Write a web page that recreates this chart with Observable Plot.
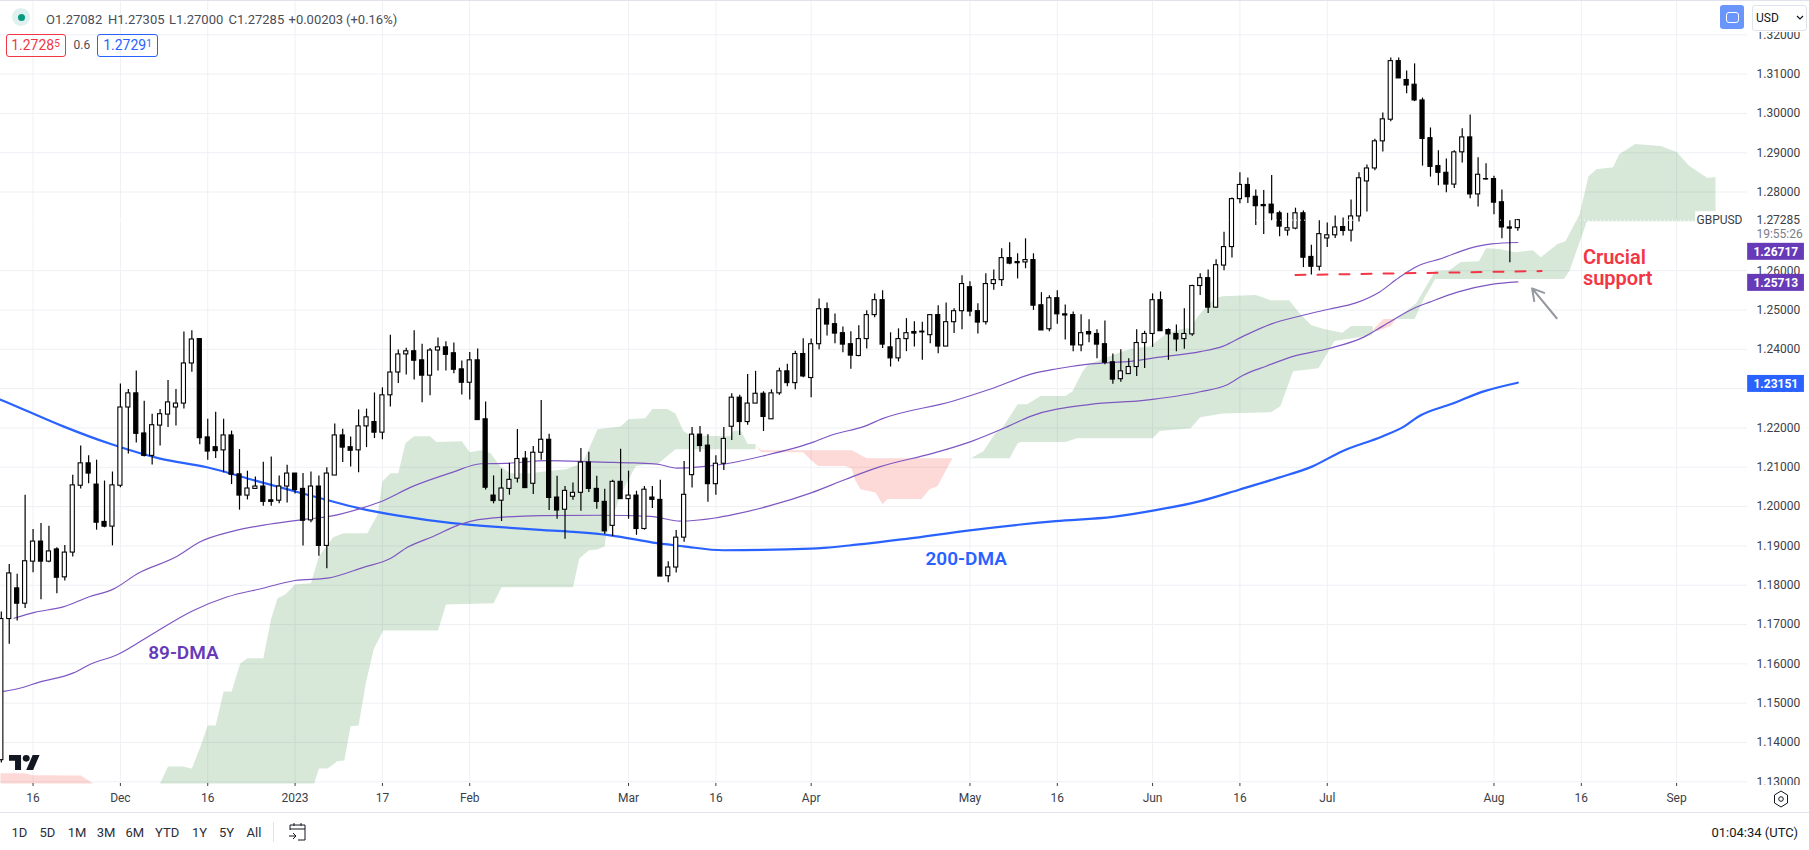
<!DOCTYPE html>
<html><head><meta charset="utf-8">
<script src="https://cdn.jsdelivr.net/npm/d3@7"></script>
<script src="https://cdn.jsdelivr.net/npm/@observablehq/plot@0.6"></script>
<style>
html,body{margin:0;padding:0;background:#fff;overflow:hidden}
#root{position:relative;width:1809px;height:850px;font-family:Roboto,sans-serif;color:#131722;overflow:hidden}
#root svg{display:block}
.a{position:absolute;white-space:nowrap;line-height:1}
</style></head><body><div id="root"><div id="chart"></div></div>
<script>
const PIP = 1e-4;
const opens = [11355,11714,11792,11753,11860,11911,11860,11891,11820,11883,
12053,12110,12056,11961,11949,12053,12252,12288,12186,12129,
12206,12234,12252,12262,12364,12426,12176,12151,12143,12181,
12082,12028,12045,12051,12016,12015,12051,12084,12045,11965,
12051,11900,12079,12181,12151,12143,12204,12215,12188,12283,
12341,12387,12395,12372,12333,12397,12405,12390,12349,12315,
12372,12222,12028,12015,12045,12071,12122,12058,12137,12170,
12023,11992,12025,12035,12112,12045,12012,11951,12063,12019,
12028,11943,12023,12017,11823,11845,11921,12080,12183,12155,
12057,12109,12203,12277,12215,12262,12287,12222,12288,12344,
12314,12388,12327,12413,12502,12464,12441,12413,12383,12426,
12487,12525,12405,12377,12426,12444,12443,12436,12487,12407,
12469,12497,12558,12497,12469,12566,12576,12632,12622,12621,
12627,12512,12451,12530,12489,12487,12410,12444,12439,12413,
12367,12324,12337,12355,12416,12439,12525,12449,12439,12426,
12438,12561,12581,12506,12613,12660,12782,12818,12788,12767,
12768,12746,12702,12707,12746,12635,12610,12682,12690,12711,
12702,12738,12827,12860,12929,12984,13133,13085,13073,13033,
12937,12866,12849,12819,12901,12939,12794,12833,12833,12774,
12710,12708.2];
const closes = [11714,11830,11753,11861,11911,11860,11886,11819,11883,12054,
12110,12084,11959,11949,12054,12252,12288,12185,12129,12207,
12235,12265,12262,12364,12425,12174,12140,12141,12181,12081,
12028,12046,12051,12012,12012,12051,12084,12042,11964,12051,
11900,12084,12181,12150,12142,12204,12227,12188,12283,12341,
12387,12395,12371,12333,12397,12405,12386,12348,12315,12372,
12220,12048,12014,12046,12068,12121,12047,12137,12170,12022,
11990,12040,12035,12112,12045,12012,11937,12063,12019,12028,
11943,12043,12017,11822,11845,11921,12030,12183,12154,12057,
12109,12172,12277,12215,12262,12287,12228,12288,12344,12314,
12388,12331,12413,12502,12463,12440,12412,12384,12426,12487,
12525,12412,12377,12426,12441,12440,12445,12487,12407,12469,
12497,12566,12496,12468,12566,12576,12632,12618,12619,12627,
12511,12448,12530,12489,12486,12410,12441,12438,12412,12366,
12323,12344,12355,12416,12439,12525,12446,12438,12425,12439,
12561,12581,12506,12614,12660,12782,12818,12787,12764,12764,
12746,12712,12708,12746,12633,12610,12693,12690,12710,12701,
12738,12835,12860,12929,12985,13133,13089,13071,13033,12935,
12864,12849,12819,12901,12939,12794,12844,12832,12773,12710,
12707,12728.5];
const highs = [11732,11853,11828,12029,11942,11957,11950,11895,11901,12080,
12154,12129,12118,12065,12088,12312,12298,12345,12268,12235,
12247,12321,12298,12444,12447,12426,12222,12240,12222,12192,
12145,12090,12075,12113,12126,12078,12105,12084,12084,12088,
12078,12099,12210,12197,12177,12246,12248,12289,12302,12436,
12398,12403,12447,12413,12402,12429,12419,12416,12370,12392,
12401,12266,12078,12095,12110,12196,12140,12153,12270,12184,
12077,12051,12060,12148,12138,12077,12044,12067,12146,12090,
12039,12051,12051,12067,11860,11939,12115,12201,12204,12183,
12129,12201,12287,12283,12336,12344,12292,12297,12352,12362,
12395,12427,12426,12528,12518,12490,12457,12445,12460,12498,
12541,12549,12442,12452,12478,12470,12469,12487,12511,12518,
12503,12587,12572,12516,12592,12602,12656,12671,12643,12681,
12643,12544,12536,12549,12513,12495,12488,12475,12450,12472,
12388,12399,12376,12450,12446,12541,12546,12452,12462,12503,
12563,12592,12602,12628,12698,12785,12849,12836,12805,12804,
12842,12751,12746,12759,12752,12665,12727,12721,12739,12734,
12780,12849,12869,12934,13001,13141,13141,13108,13126,13039,
12963,12905,12884,12905,12961,12996,12887,12872,12840,12805,
12727,12730.5];
const lows = [11348,11650,11709,11741,11832,11763,11857,11778,11811,11872,
12045,12058,11940,11946,11900,12048,12134,12162,12126,12106,
12154,12201,12205,12248,12342,12157,12118,12122,12086,12056,
11991,12017,12045,12001,12001,12007,12009,12032,11900,11959,
11874,11842,12079,12112,12101,12086,12150,12173,12170,12253,
12313,12335,12322,12264,12282,12345,12345,12338,12284,12271,
12220,12042,12007,11962,12029,12060,12047,12031,12118,11990,
11968,11917,12016,11988,12036,11993,11929,11924,12019,11968,
11927,11940,11995,11822,11806,11831,11909,12047,12138,12011,
12029,12092,12168,12181,12207,12262,12191,12222,12283,12305,
12297,12328,12277,12399,12434,12414,12391,12349,12381,12401,
12480,12402,12355,12368,12394,12406,12372,12414,12389,12407,
12440,12450,12483,12439,12462,12550,12560,12615,12579,12605,
12499,12448,12445,12464,12424,12394,12394,12417,12376,12361,
12311,12316,12337,12331,12351,12405,12446,12372,12394,12400,
12433,12537,12491,12505,12600,12632,12770,12771,12715,12692,
12727,12686,12688,12704,12608,12589,12599,12659,12682,12688,
12673,12724,12749,12854,12902,12979,13089,13050,13030,12866,
12838,12816,12798,12809,12874,12783,12762,12830,12742,12681,
12620,12700];

const maUpperBar = [1.6,4.2,7.8,11,14.1,17.3,22.1,25,29.1,33.7,38.4,41.3,45.4,47.6,51.9,56.8,60.4,63.5,68.8,75.5,79.7,82.6,85.1,88,91.3,96.2,102,104.9,108.7,110.9,119.8,124.6,129.9,132.8,137.2,142.5,145.9,151,153.9,156.4,159.9,163.8,167.2,170.6,173.6,176,178.4,181.4,184.8,187.7,191];
const maUpperVal = [11716,11731,11745,11770,11790,11831,11873,11910,11937,11955,11968,11975,11996,12011,12052,12087,12109,12110,12117,12113,12111,12108,12098,12101,12109,12130,12162,12184,12204,12223,12268,12299,12338,12350,12363,12370,12380,12394,12408,12433,12464,12486,12502,12518,12546,12582,12612,12631,12656,12668,12671.7];
const maLowerBar = [0.3,2.3,4.7,9.1,11.2,14.6,19.2,24,28.4,33.1,37,41.1,45.7,49,51.2,54.4,57.7,60.1,67.9,75.5,81.8,85.5,89.9,92.3,96.6,102,106.3,110.6,117.4,122.2,126.8,129.7,137.2,143.9,151,154.4,156.4,159.3,162.7,167.2,171.6,174,178,179.9,183.5,187.7,191];
const maLowerVal = [11530,11538,11553,11577,11599,11623,11678,11734,11770,11793,11812,11818,11846,11868,11897,11924,11954,11967,11977,11978,11975,11963,11971,11980,12001,12035,12069,12101,12136,12166,12204,12230,12260,12270,12292,12310,12334,12357,12382,12402,12431,12459,12505,12520,12546,12565,12571.3];
const ma200Bar = [-0.1,2.8,7.8,13.8,20,25.9,32,36.2,40.8,45,50,56.8,64.1,68.3,72.5,76.7,82.6,85.9,90.9,102,106.8,114,121.7,132.8,140,145.4,151,155.9,160.8,165,168.9,174,176.7,178.4,182.8,186.7,191];
const ma200Val = [12272,12247,12204,12159,12122,12100,12066,12043,12018,11996,11977,11958,11946,11940,11935,11927,11907,11899,11889,11893,11901,11918,11939,11963,11974,11991,12014,12043,12073,12101,12141,12179,12204,12228,12262,12293,12315.1];

const green1Bar = [20,21,22.8,24,25,26,27,28,29,30.1,31,33,34,34.8,35.8,37,39,40,41.8,43.1,46.1,47.4,48,49,50,50.9,52,54,54.8,58,59,60.4,61.6,62.8,64.1,66.6,68.7,71.1,73.2,75.1,78,79,81.1,82,83.9,84.9,85.9,86.8,91.8,92.2,93.1,94,95,
95,84.9,82.8,79.9,78,76.1,76,75.1,74,72.8,72,63,62,56,55,48.1,46.9,45.9,45,44,43.2,42.3,41.1,40,39.4];
const green1Val = [11296,11339,11339,11334,11385,11443,11443,11530,11530,11601,11614,11614,11716,11767,11777,11802,11805,11873,11922,11932,11932,11980,12064,12085,12085,12161,12179,12179,12164,12166,12138,12143,12136,12103,12085,12085,12090,12095,12110,12197,12204,12222,12225,12248,12248,12237,12192,12181,12179,12192,12194,12159,12159,
12146,12146,12110,12103,12031,11919,11899,11891,11889,11868,11795,11795,11754,11751,11685,11685,11637,11550,11443,11441,11354,11352,11334,11334,11296];
const green2Bar = [122.1,123.7,125.1,126.2,127.2,128,129.2,130.9,134,134.9,136.2,136.9,141.3,142.6,144.7,146.7,148.5,149.8,150.7,152.7,153.8,158,159.9,162.2,163.5,165,166.7,168.9,170,172.7,172.8,
172.6,167.9,165.9,162.7,161.1,159.9,153.8,151,149.8,145.9,145,135.5,134,128.4,128,127];
const green2Val = [12123,12141,12184,12204,12235,12260,12260,12281,12281,12293,12344,12362,12395,12403,12408,12439,12451,12454,12484,12528,12535,12538,12525,12525,12492,12461,12451,12442,12459,12459,12446,
12436,12421,12352,12344,12255,12240,12237,12227,12199,12192,12174,12174,12164,12164,12161,12123];
const green3Bar = [175.7,178.2,180.6,182.4,183.8,186.1,187,188.7,190.7,192.9,193.9,196,197,198.8,199.9,200.9,203,203.8,205.8,209,211,212.6,214.9,215.9,
215.9,199.7,199.4,197.5,196.8,180.6,179.2,178];
const green3Val = [12477,12517,12599,12601,12622,12624,12657,12655,12647,12652,12634,12668,12675,12744,12840,12858,12863,12897,12922,12917,12902,12866,12836,12838,
12726,12726,12708,12599,12579,12579,12530,12477];
const red0Bar = [-0.1,2.9,4,10,11.6,-0.1];
const red0Val = [11322,11322,11317,11316,11296,11296];
const red1Bar = [95,95.7,101,107.1,109,119.8,117.9,116.9,115.9,111.6,111,110.1,108.2,107.5,107.1,106.3,102.9,101.9,101,95.7];
const red1Val = [12156,12143,12143,12143,12123,12123,12052,12044,12019,12019,12006,12036,12044,12069,12097,12103,12103,12120,12138,12138];
const red2Bar = [172.8,174.1,175.7,175,173.3];
const red2Val = [12451,12477,12477,12459,12446];

const supportBar = [163,194];
const supportVal = [12589,12599];

const priceTicks = [1.13,1.14,1.15,1.16,1.17,1.18,1.19,1.20,1.21,1.22,1.23,1.24,1.25,1.26,1.28,1.29,1.30,1.31,1.32];
const timeBars = [4,15,26,37,48,59,79,90,102,122,133,145,156,167,188,199,211];
const timeLabels = ["16","Dec","16","2023","17","Feb","Mar","16","Apr","May","16","Jun","16","Jul","Aug","16","Sep"];
const tagLabels = ["1.26717","1.25713","1.23151"];
const tagCenters = [1.2648,1.2569,1.2312];
const tagColors = ["#673ab7","#673ab7","#2962ff"];
const lastPrice = 1.27285;

const zip = (bars, vals) => bars.map((b,k)=>({b, p: vals[k]*PIP}));
const candles = opens.map((o,i)=>({i, o:o*PIP, c:closes[i]*PIP, h:highs[i]*PIP, l:lows[i]*PIP, up:closes[i]>=o}));
const tags = tagLabels.map((t,k)=>({t, c:tagCenters[k], col:tagColors[k]}));
const GREEN="#388e3c", RED="#f44336", GRID="#eef0f4", AX="#3b3e48", PURPLE="#7e57c2";
const poly=(rows,fill)=>Plot.line(rows,{x:"b",y:"p",fill,fillOpacity:.2,stroke:null,curve:"linear"});

const chart = Plot.plot({
  width:1809,height:850,marginLeft:0,marginRight:62,marginTop:0,marginBottom:67,
  style:{fontFamily:"Roboto, sans-serif",fontSize:"12px",background:"#fff",overflow:"visible"},
  x:{type:"linear",domain:[-0.1008,219.93],axis:null},
  y:{type:"linear",domain:[1.12957,1.32872],axis:null},
  marks:[
    Plot.gridX(timeBars,{stroke:GRID,strokeOpacity:1}),
    Plot.gridY(priceTicks,{stroke:GRID,strokeOpacity:1}),
    Plot.axisY(priceTicks,{anchor:"right",tickSize:0,tickPadding:9,tickFormat:d=>d.toFixed(5),label:null,color:AX,fontSize:12}),
    Plot.axisX(timeBars,{anchor:"bottom",tickSize:3,tickPadding:7,tickFormat:d=>timeLabels[timeBars.indexOf(d)],label:null,color:AX,fontSize:12}),
    poly(zip(red0Bar,red0Val),RED),
    poly(zip(green1Bar,green1Val),GREEN),
    poly(zip(red1Bar,red1Val),RED),
    poly(zip(green2Bar,green2Val),GREEN),
    poly(zip(red2Bar,red2Val),RED),
    poly(zip(green3Bar,green3Val),GREEN),
    Plot.line(zip(ma200Bar,ma200Val),{x:"b",y:"p",stroke:"#2962ff",strokeWidth:2.2,curve:"monotone-x"}),
    Plot.line(zip(maUpperBar,maUpperVal),{x:"b",y:"p",stroke:PURPLE,strokeWidth:1.2,curve:"monotone-x"}),
    Plot.line(zip(maLowerBar,maLowerVal),{x:"b",y:"p",stroke:PURPLE,strokeWidth:1.2,curve:"monotone-x"}),
    Plot.ruleX(candles,{x:"i",y1:"l",y2:"h",stroke:"#000",strokeWidth:1.2}),
    Plot.rect(candles,{x1:d=>d.i-0.26,x2:d=>d.i+0.26,y1:"o",y2:"c",fill:d=>d.up?"#fff":"#000",stroke:"#000",strokeWidth:1.1}),
    Plot.ruleY([lastPrice],{stroke:"#fff",strokeDasharray:"1,3"}),
    Plot.line(zip(supportBar,supportVal),{x:"b",y:"p",stroke:"#f23645",strokeWidth:2,strokeDasharray:"10,12"}),
    Plot.arrow([{x1:195.9,y1:1.2479,x2:192.8,y2:1.2555}],{x1:"x1",y1:"y1",x2:"x2",y2:"y2",stroke:"#9598a1",strokeWidth:2,headLength:16,headAngle:60,bend:0}),
    Plot.text(["Crucial"],{x:199.2,y:1.2633,text:d=>d,textAnchor:"start",fill:"#f23645",fontWeight:600,fontSize:20}),
    Plot.text(["support"],{x:199.2,y:1.2581,text:d=>d,textAnchor:"start",fill:"#f23645",fontWeight:600,fontSize:20}),
    Plot.text(["89-DMA"],{x:18.5,y:1.1627,text:d=>d,textAnchor:"start",fill:"#673ab7",fontWeight:600,fontSize:19}),
    Plot.text(["200-DMA"],{x:116.4,y:1.1868,text:d=>d,textAnchor:"start",fill:"#2962ff",fontWeight:600,fontSize:19}),
    Plot.rect([lastPrice],{x1:213.4,x2:219.5,y1:d=>d-0.00215,y2:d=>d+0.00215,fill:"#fff"}),
    Plot.text(["GBPUSD"],{x:219.3,y:lastPrice,text:d=>d,textAnchor:"end",fill:AX,fontSize:12}),
    Plot.text([lastPrice],{x:221.06,y:lastPrice,text:d=>d.toFixed(5),textAnchor:"start",fill:AX,fontSize:12}),
    Plot.text(["19:55:26"],{x:221.06,y:1.2692,text:d=>d,textAnchor:"start",fill:"#7a7d87",fontSize:12}),
    Plot.rect(tags,{x1:219.95,x2:227.1,y1:d=>d.c-0.00216,y2:d=>d.c+0.00216,fill:"col"}),
    Plot.text(tags,{x:223.5,y:"c",text:"t",fill:"#fff",fontWeight:700,fontSize:12})
  ]
});
document.getElementById("chart").appendChild(chart);

const root=document.getElementById("root");
function el(html,css){const d=document.createElement("div");d.className="a";d.style.cssText=css;d.innerHTML=html;root.appendChild(d);return d;}
const lg="font-size:13px;color:#4a4d57;top:12.5px;";
el("","left:0;top:0;width:1809px;height:1px;background:#e0e3eb");
el("","left:11.5px;top:8px;width:18px;height:18px;border-radius:50%;background:#dff1ee");
el("","left:17.5px;top:13.5px;width:7px;height:7px;border-radius:50%;background:#089981");
[["O1.27082",46],["H1.27305",108],["L1.27000",169],["C1.27285",228.5],["+0.00203",288.5],["(+0.16%)",346]].forEach(([t,x])=>el(t,lg+"left:"+x+"px"));
el('1.2728<sup style="font-size:10px;vertical-align:3px;line-height:0">5</sup>',"left:5.5px;top:33.5px;width:58px;height:21px;border:1px solid #f23645;border-radius:3px;color:#f23645;font-size:14px;line-height:21px;text-align:center");
el("0.6","left:73.5px;top:39px;font-size:12px;color:#4a4d57");
el('1.2729<sup style="font-size:10px;vertical-align:3px;line-height:0">1</sup>',"left:97px;top:33.5px;width:59px;height:21px;border:1px solid #2962ff;border-radius:3px;color:#2962ff;font-size:14px;line-height:21px;text-align:center");
el("","left:1720px;top:5px;width:24px;height:24px;border-radius:3px;background:#6a95fb");
el("","left:1726px;top:11.5px;width:10.5px;height:9.5px;border:1.2px solid #fff;border-radius:3px");
el("","left:1750px;top:1px;width:59px;height:30.5px;background:#fff");
el("USD","left:1752px;top:5px;height:24px;border:1px solid #e0e3eb;border-radius:3px;font-size:12px;line-height:24px;padding-left:3px;box-sizing:content-box;width:50px");
el('<svg width="8" height="5" viewBox="0 0 8 5"><path d="M1 1l3 3 3-3" fill="none" stroke="#131722" stroke-width="1.2"/></svg>',"left:1796px;top:15px");
el("","left:1750px;top:784.5px;width:59px;height:8px;background:#fff");
el('<svg width="31" height="15" viewBox="0 0 36 18" preserveAspectRatio="none"><path fill="#131722" d="M14 18H7V7H0V0h14v18zM28 18h-8l7.5-18h8L28 18z"/><circle cx="20" cy="4" r="4" fill="#131722"/></svg>',"left:8.5px;top:755px");
el('<svg width="16" height="18" viewBox="0 0 16 18"><path d="M8 1l6.5 4v8L8 17 1.500 13V5z" fill="none" stroke="#131722" stroke-width="1"/><circle cx="8" cy="9" r="2.300" fill="none" stroke="#131722" stroke-width="1"/></svg>',"left:1772.5px;top:790px");
el("","left:0;top:812px;width:1809px;height:1px;background:#e0e3eb");
[["1D",11.5],["5D",39.4],["1M",67.7],["3M",96.8],["6M",125.5],["YTD",155],["1Y",192],["5Y",219],["All",246.5]].forEach(([t,x])=>el(t,"font-size:13px;color:#2a2e39;top:826px;left:"+x+"px"));
el("","left:273px;top:822px;width:1px;height:20px;background:#e0e3eb");
el('<svg width="19" height="19" viewBox="0 0 19 19"><path d="M2 8V3h15v15H10M2 7h15M6 1v3M13 1v3M1 14h7M5 11l3 3-3 3" fill="none" stroke="#131722" stroke-width="1"/></svg>',"left:288px;top:822px");
el("01:04:34 (UTC)","left:1711.5px;top:826px;font-size:13px;color:#131722");
</script></body></html>
